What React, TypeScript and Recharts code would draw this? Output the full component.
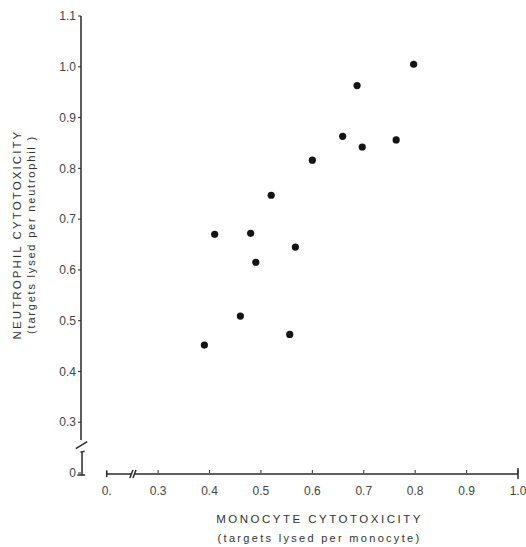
import {
  ReferenceLine,
  Scatter,
  ScatterChart,
  XAxis,
  YAxis,
} from "recharts";

// monocyte vs neutrophil cytotoxicity (targets lysed per cell)
const monocyte = [0.39, 0.41, 0.46, 0.48, 0.49, 0.52, 0.556, 0.567, 0.6, 0.659, 0.687, 0.697, 0.763, 0.797];
const neutrophil = [0.452, 0.67, 0.509, 0.672, 0.615, 0.747, 0.473, 0.645, 0.816, 0.863, 0.963, 0.842, 0.856, 1.005];

const xTicks = [0.2, 0.3, 0.4, 0.5, 0.6, 0.7, 0.8, 0.9, 1.0];
const yTicks = [0.2, 0.3, 0.4, 0.5, 0.6, 0.7, 0.8, 0.9, 1.0, 1.1];

const points = monocyte.map((m, i) => ({ x: m, y: neutrophil[i] }));

// broken axis pieces, in data units
const axisMarks: [number, number, number, number][] = [
  // y axis
  [0.15, 0.265, 0.15, 1.1],
  [0.14, 0.248, 0.162, 0.262],
  [0.152, 0.1955, 0.152, 0.241],
  [0.149, 0.241, 0.157, 0.243],
  [0.143, 0.196, 0.158, 0.196],
  // x axis
  [0.2, 0.198, 0.248, 0.198],
  [0.2, 0.192, 0.2, 0.204],
  [0.245, 0.19, 0.251, 0.206],
  [0.251, 0.19, 0.257, 0.206],
  [0.255, 0.198, 1.0, 0.198],
  [1.0, 0.188, 1.0, 0.21],
];

const font = "'Liberation Sans', Arial, sans-serif";
const ink = "#2a2a2a";

const isZero = (v: number) => Math.abs(v - 0.2) < 1e-6;

function XTitle(props: any) {
  const vb = props.viewBox;
  const cx = vb.x + vb.width / 2 + 20;
  return (
    <g fontFamily={font} fill="#333" textAnchor="middle">
      <text x={cx} y={vb.y + 50} fontSize={11.5} letterSpacing={2.5}>
        MONOCYTE  CYTOTOXICITY
      </text>
      <text x={cx} y={vb.y + 69} fontSize={11} letterSpacing={2.3}>
        (targets lysed per monocyte)
      </text>
    </g>
  );
}

function YTitle(props: any) {
  const vb = props.viewBox;
  const cy = vb.y + vb.height / 2 - 10;
  return (
    <g fontFamily={font} fill="#333" textAnchor="middle">
      <text
        x={17}
        y={cy}
        dominantBaseline="central"
        transform={`rotate(-90 17 ${cy})`}
        fontSize={11.5}
        letterSpacing={2.1}
      >
        NEUTROPHIL CYTOTOXICITY
      </text>
      <text
        x={31}
        y={cy}
        dominantBaseline="central"
        transform={`rotate(-90 31 ${cy})`}
        fontSize={11}
        letterSpacing={1.8}
      >
        (targets lysed per neutrophil )
      </text>
    </g>
  );
}

export default function App() {
  return (
    <div style={{ position: "absolute", left: 0, top: 0, background: "#fff" }}>
      <ScatterChart
        width={526}
        height={547}
        margin={{ top: 16, right: 8, bottom: 0, left: 0 }}
      >
        <XAxis
          type="number"
          dataKey="x"
          domain={[0.15, 1.0]}
          ticks={xTicks}
          allowDataOverflow
          axisLine={false}
          tickLine={{ stroke: ink }}
          tickSize={-3}
          tickMargin={16}
          height={74}
          tick={{ fontSize: 12, fill: "#444", fontFamily: font }}
          tickFormatter={(v: number) => (isZero(v) ? "0." : v.toFixed(1))}
          label={{ content: XTitle }}
        />
        <YAxis
          type="number"
          dataKey="y"
          domain={[0.2, 1.1]}
          ticks={yTicks}
          allowDataOverflow
          axisLine={false}
          tickLine={{ stroke: ink }}
          tickSize={3}
          tickMargin={2}
          width={81}
          tick={{ fontSize: 12, fill: "#444", fontFamily: font }}
          tickFormatter={(v: number) => (isZero(v) ? "0" : v.toFixed(1))}
          label={{ content: YTitle }}
        />
        {axisMarks.map(([x1, y1, x2, y2], i) => (
          <ReferenceLine
            key={i}
            segment={[
              { x: x1, y: y1 },
              { x: x2, y: y2 },
            ]}
            stroke={ink}
            strokeWidth={1.5}
            ifOverflow="visible"
          />
        ))}
        <Scatter
          data={points}
          isAnimationActive={false}
          shape={(p: any) => <circle cx={p.cx} cy={p.cy} r={3.6} fill="#141414" />}
        />
      </ScatterChart>
    </div>
  );
}
